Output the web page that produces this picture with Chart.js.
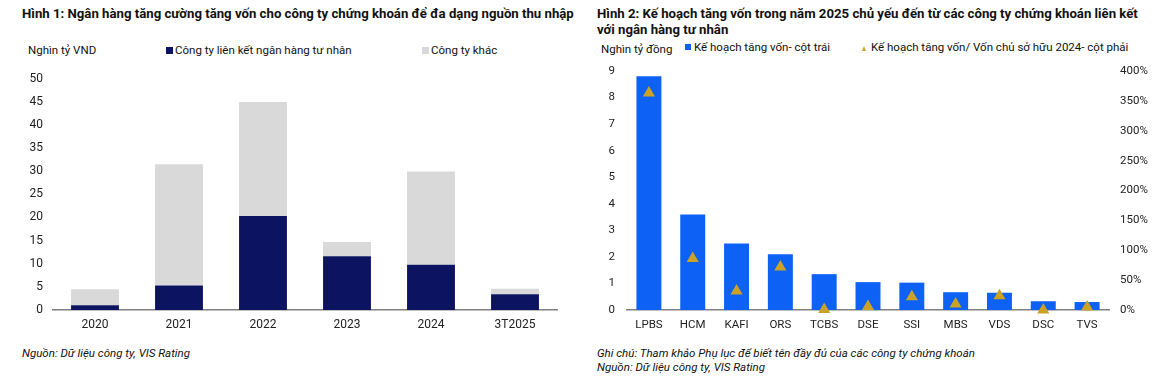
<!DOCTYPE html>
<html>
<head>
<meta charset="utf-8">
<script src="https://cdn.jsdelivr.net/npm/chart.js@4/dist/chart.umd.min.js"></script>
<style>
  body { margin: 0; background: #fff; font-family: Roboto, sans-serif; color: #111; }
  #page { position: relative; width: 1173px; height: 376px; overflow: hidden; }
  .t { position: absolute; white-space: nowrap; }
  .title { font-weight: bold; font-size: 13.2px; line-height: 16px; }
  .leg { font-size: 11.5px; line-height: 14px; }
  .note { font-style: italic; font-size: 11.5px; line-height: 14px; }
  .sq { position: absolute; }
  .tri { position: absolute; width: 0; height: 0; border-left: 2.5px solid transparent; border-right: 2.5px solid transparent;
         border-bottom: 5px solid #c9a227; }
  canvas { position: absolute; }
</style>
</head>
<body>
<div id="page">
  <div class="t title" style="left:22px; top:5.5px;">Hình 1: Ngân hàng tăng cường tăng vốn cho công ty chứng khoán để đa dạng nguồn thu nhập</div>
  <div class="t title" style="left:597px; top:5.5px;">Hình 2: Kế hoạch tăng vốn trong năm 2025 chủ yếu đến từ các công ty chứng khoán liên kết<br>với ngân hàng tư nhân</div>

  <div class="t leg" style="left:28px; top:43px;">Nghìn tỷ VND</div>
  <div class="sq" style="left:166px; top:47px; width:7px; height:7px; background:#0c1461"></div>
  <div class="t leg" style="left:175px; top:43px;">Công ty liên kết ngân hàng tư nhân</div>
  <div class="sq" style="left:422px; top:47px; width:7px; height:7px; background:#d9d9d9"></div>
  <div class="t leg" style="left:431px; top:43px;">Công ty khác</div>

  <div class="t leg" style="left:601px; top:42px;">Nghìn tỷ đồng</div>
  <div class="sq" style="left:685px; top:44px; width:6px; height:6px; background:#0d62f5"></div>
  <div class="t leg" style="left:694px; top:40px;">Kế hoạch tăng vốn- cột trái</div>
  <div class="tri" style="left:862px; top:46px;"></div>
  <div class="t leg" style="left:871px; top:40px;">Kế hoạch tăng vốn/ Vốn chủ sở hữu 2024- cột phải</div>

  <canvas id="c1" style="left:0; top:60px;"></canvas>
  <canvas id="c2" style="left:590px; top:60px;"></canvas>

  <div class="t note" style="left:22px; top:346px;">Nguồn: Dữ liệu công ty, VIS Rating</div>
  <div class="t note" style="left:597px; top:346px;">Ghi chú: Tham khảo Phụ lục để biết tên đầy đủ của các công ty chứng khoán<br>Nguồn: Dữ liệu công ty, VIS Rating</div>
</div>
<script>
// Hinh 1
var years = ['2020', '2021', '2022', '2023', '2024', '3T2025'];
var bankLinked = [1.0, 5.3, 20.3, 11.6, 9.8, 3.4];
var otherCompanies = [3.5, 26.2, 24.6, 3.1, 20.1, 1.2];

// Hinh 2
var companies = ['LPBS', 'HCM', 'KAFI', 'ORS', 'TCBS', 'DSE', 'SSI', 'MBS', 'VDS', 'DSC', 'TVS'];
var capitalPlan = [8.8, 3.6, 2.5, 2.1, 1.35, 1.05, 1.03, 0.67, 0.65, 0.33, 0.3];
var planToEquity = [363, 86, 32, 72, 1, 6, 22, 10, 24, 0, 5];

Chart.defaults.font.family = 'Roboto, sans-serif';
Chart.defaults.font.size = 12;
Chart.defaults.color = '#222';
Chart.defaults.animation = false;

function fixHeight(h) { return function (s) { s.height = h; }; }
// fixed width, and no extra room for half tick labels at the ends
function fixWidth(w) { return function (s) { s.width = w; s.paddingTop = 0; s.paddingBottom = 0; }; }

var c1 = document.getElementById('c1');
c1.width = 590; c1.height = 280;
new Chart(c1, {
    type: 'bar',
    data: {
        labels: years,
        datasets: [{
            label: 'Công ty liên kết ngân hàng tư nhân',
            data: bankLinked,
            backgroundColor: '#0c1461'
        }, {
            label: 'Công ty khác',
            data: otherCompanies,
            backgroundColor: '#d9d9d9'
        }]
    },
    options: {
        responsive: false,
        layout: { padding: { top: 18.5, right: 33, left: 0, bottom: 0 } },
        plugins: { legend: { display: false }, tooltip: { enabled: false } },
        datasets: { bar: { categoryPercentage: 1, barPercentage: 0.57 } },
        scales: {
            x: {
                stacked: true,
                grid: { display: false, drawTicks: false },
                border: { color: '#808080', width: 1.5 },
                ticks: { padding: 8 },
                afterFit: fixHeight(30)
            },
            y: {
                stacked: true,
                min: 0, max: 50,
                ticks: { stepSize: 5, padding: 10 },
                grid: { display: false, drawTicks: false },
                border: { display: false },
                afterFit: fixWidth(53)
            }
        }
    }
});

var c2 = document.getElementById('c2');
c2.width = 583; c2.height = 280;
new Chart(c2, {
    data: {
        labels: companies,
        datasets: [{
            type: 'line',
            label: 'Kế hoạch tăng vốn/ Vốn chủ sở hữu 2024- cột phải',
            data: planToEquity,
            yAxisID: 'y1',
            showLine: false,
            pointStyle: 'triangle',
            pointRadius: 7,
            pointBackgroundColor: '#c9a227',
            pointBorderColor: '#c9a227',
            pointBorderWidth: 0,
            clip: false,
            order: 0
        }, {
            type: 'bar',
            label: 'Kế hoạch tăng vốn- cột trái',
            data: capitalPlan,
            yAxisID: 'y',
            backgroundColor: '#0d62f5',
            categoryPercentage: 1,
            barPercentage: 0.57,
            order: 1
        }]
    },
    options: {
        responsive: false,
        layout: { padding: { top: 11, right: 0, left: 0, bottom: 0 } },
        plugins: { legend: { display: false }, tooltip: { enabled: false } },
        scales: {
            x: {
                grid: { display: false, drawTicks: false },
                border: { color: '#808080', width: 1.5 },
                ticks: { padding: 8, font: { size: 11.5 } },
                afterFit: fixHeight(30)
            },
            y: {
                position: 'left',
                min: 0, max: 9,
                ticks: { stepSize: 1, padding: 12, font: { size: 11.5 } },
                grid: { display: false, drawTicks: false },
                border: { display: false },
                afterFit: fixWidth(37)
            },
            y1: {
                position: 'right',
                min: 0, max: 400,
                ticks: { stepSize: 50, padding: 11, font: { size: 11.5 }, callback: function (v) { return v + '%'; } },
                grid: { display: false, drawTicks: false },
                border: { display: false },
                afterFit: fixWidth(64)
            }
        }
    }
});
</script>
</body>
</html>
